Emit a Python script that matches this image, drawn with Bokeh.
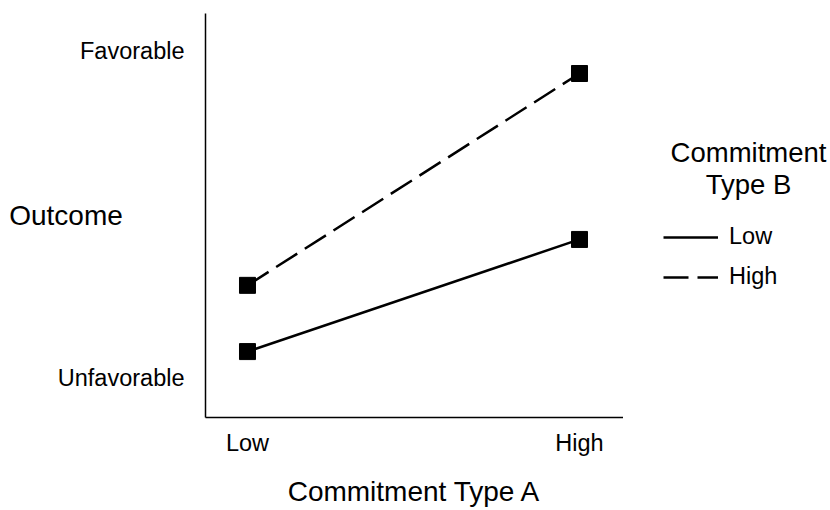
from bokeh.plotting import figure
from bokeh.layouts import row
from bokeh.models import Range1d, FixedTicker, Legend, LegendItem, Label
from bokeh.embed import file_html
from bokeh.resources import INLINE

# data
x_levels = [0, 1]
x_labels = ["Low", "High"]
y_tick_vals = [0, 10]
y_tick_labels = ["Unfavorable", "Favorable"]
b_low = [0.82, 4.24]
b_high = [2.84, 9.30]
series_names = ["Low", "High"]
legend_title_lines = ["Commitment", "Type B"]

FONT = "Liberation Sans"

p = figure(width=623, height=510, output_backend="svg", toolbar_location=None,
           x_range=Range1d(-0.1265, 1.1325), y_range=Range1d(-1.19, 11.13),
           min_border_left=205, min_border_right=0, min_border_top=13, min_border_bottom=93)
p.outline_line_color = None
p.grid.visible = False

# axes
p.xaxis.ticker = FixedTicker(ticks=x_levels)
p.xaxis.major_label_overrides = {v: l for v, l in zip(x_levels, x_labels)}
p.yaxis.ticker = FixedTicker(ticks=y_tick_vals)
p.yaxis.major_label_overrides = {v: l for v, l in zip(y_tick_vals, y_tick_labels)}
for ax in (p.xaxis, p.yaxis):
    ax.axis_line_color = "black"
    ax.axis_line_width = 1.5
    ax.major_tick_line_color = None
    ax.minor_tick_line_color = None
    ax.major_label_text_font = FONT
    ax.major_label_text_font_size = "23.5px"
    ax.major_label_text_color = "black"
    ax.axis_label_text_font = FONT
    ax.axis_label_text_font_size = "28px"
    ax.axis_label_text_font_style = "normal"
    ax.axis_label_text_color = "black"
p.xaxis.major_label_standoff = 6
p.yaxis.major_label_standoff = 15
p.xaxis.axis_label = "Commitment Type A"
p.xaxis.axis_label_standoff = 17
p.yaxis.axis_label = "Outcome"
p.yaxis.axis_label_orientation = "horizontal"
p.yaxis.axis_label_standoff = -68

# series
line_kw_low = dict(line_color="black", line_width=2.5)
line_kw_high = dict(line_color="black", line_width=2.5, line_dash="25 9")
p.line(x_levels, b_low, **line_kw_low)
p.scatter(x_levels, b_low, marker="square", size=16, color="black")
p.line(x_levels, b_high, **line_kw_high)
p.scatter(x_levels, b_high, marker="square", size=16, color="black")

# legend panel; its frame is aligned with the main frame (pixel rows 13..417)
q = figure(width=207, height=510, output_backend="svg", toolbar_location=None,
           x_range=Range1d(623, 830), y_range=Range1d(417, 13),
           x_axis_type=None, y_axis_type=None,
           min_border_left=0, min_border_right=0, min_border_top=13, min_border_bottom=93)
q.outline_line_color = None
q.grid.visible = False
# same series drawn in q (outside its visible range) only to provide legend glyphs
lr_low = q.line(x_levels, b_low, **line_kw_low)
lr_high = q.line(x_levels, b_high, **line_kw_high)

legend = Legend(items=[LegendItem(label=series_names[0], renderers=[lr_low]),
                       LegendItem(label=series_names[1], renderers=[lr_high])],
                location=(40, 127), orientation="vertical",
                padding=0, margin=0, spacing=13,
                glyph_width=55, glyph_height=26, label_height=26, label_standoff=11,
                label_text_font=FONT, label_text_font_size="23.5px", label_text_color="black",
                border_line_color=None, background_fill_alpha=0)
q.add_layout(legend, "center")
for txt, yy in zip(legend_title_lines, [152, 184]):
    q.add_layout(Label(x=748, y=yy, text=txt, text_font=FONT, text_font_size="27.5px",
                       text_align="center", text_baseline="middle", text_color="black"))

open("out.html", "w").write(file_html(row(p, q), INLINE))
